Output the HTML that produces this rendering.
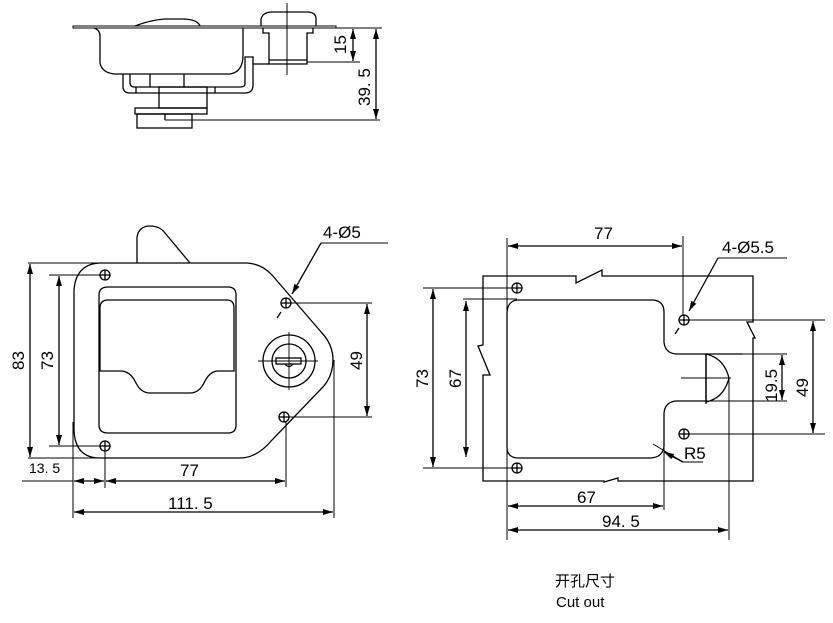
<!DOCTYPE html>
<html><head><meta charset="utf-8"><style>
html,body{margin:0;padding:0;background:#fff;}
svg{display:block;}
text{font-family:"Liberation Sans","Noto Sans CJK SC",sans-serif;fill:#000;}
</style></head><body>
<svg width="833" height="623" viewBox="0 0 833 623" xmlns="http://www.w3.org/2000/svg">
<defs>
<marker id="a" viewBox="0 0 10 6" refX="10" refY="3" markerWidth="10" markerHeight="6" orient="auto-start-reverse" markerUnits="userSpaceOnUse"><path d="M0,0 L10,3 L0,6 z" fill="#000"/></marker>
</defs>
<g fill="none" stroke="#000" stroke-width="1.3">
<!-- TOP VIEW -->
<path d="M73,26 L336,26 L336,28 L73,28 Z" stroke-width="1"/>
<path d="M135,26 Q150,20 165,19 L185,19 Q198,20 200,26"/>
<path d="M94,28 Q100,30 100,36 L100,63 Q102,73 115,74 L230,74 Q243,72 243,55 L243,28"/>
<path d="M123,74 L123,88 Q124,93 130,93 L245,93 Q253,93 253,85 L253,57 L245,57 L245,84 Q245,87 240,87 L134,87 Q130,87 130,82 L130,74"/>
<line x1="150" y1="74" x2="150" y2="87"/><line x1="184" y1="74" x2="184" y2="87"/>
<line x1="136" y1="87" x2="136" y2="93"/><line x1="215" y1="87" x2="215" y2="93"/>
<rect x="159" y="87" width="48" height="21"/>
<rect x="135" y="108" width="72" height="6"/>
<rect x="137" y="114" width="55" height="14"/>
<line x1="165" y1="114" x2="165" y2="120"/>
<line x1="165" y1="120" x2="380" y2="120" stroke-width="1"/>
<path d="M261,26 L261,19 Q263,12 272,12 L307,12 Q316,12 316,19 L316,26"/>
<path d="M263,28 L263,33 L269,33 L269,64 L307,64 L307,33 L313,33 L313,28"/>
<line x1="269" y1="60" x2="307" y2="60"/>
<line x1="253" y1="64" x2="269" y2="64"/>
<line x1="287" y1="3" x2="287" y2="75" stroke-width="1"/>
<line x1="307" y1="62" x2="360" y2="62" stroke-width="1"/>
<line x1="336" y1="28" x2="382" y2="28" stroke-width="1"/>
<line x1="353" y1="29" x2="353" y2="61" marker-start="url(#a)" marker-end="url(#a)"/>
<line x1="376" y1="29" x2="376" y2="119" marker-start="url(#a)" marker-end="url(#a)"/>

<!-- LEFT VIEW -->
<path d="M137,263 L137,237 Q139,226 150,226 Q160,226 165,233 L190,263"/>
<path d="M100,263 L247,263 Q262,264 272,275 L322,333 Q333,345 333,360 Q333,378 320,390 L272,440 Q257,458 240,458 L100,458 Q75,458 74,430 L74,290 Q76,264 100,263 Z"/>
<path d="M108,287 L228,287 Q236,287 236,295 L236,425 Q236,433 228,433 L108,433 Q99,433 99,425 L99,295 Q99,287 108,287 Z"/>
<path d="M100,371 L100,308 Q100,300 108,300 L227,300 Q234,300 234,308 L234,371 L217,371 Q209,372 204,383 Q199,393 190,393 L150,393 Q141,393 136,383 Q131,372 122,371 Z"/>
<circle cx="289" cy="361" r="26"/>
<circle cx="289" cy="361" r="17"/>
<rect x="276" y="358" width="25" height="6"/>
<path d="M285,364 Q289,369 293,364"/>
<line x1="258" y1="361" x2="318" y2="361" stroke-width="0.9"/>
<line x1="289" y1="332" x2="289" y2="390" stroke-width="0.9"/>
<circle cx="105" cy="275" r="5"/><line x1="100" y1="275" x2="110" y2="275"/><line x1="105" y1="270" x2="105" y2="280"/>
<circle cx="286" cy="303" r="5"/><line x1="281" y1="303" x2="291" y2="303"/><line x1="286" y1="298" x2="286" y2="308"/>
<circle cx="105" cy="446" r="5"/><line x1="100" y1="446" x2="110" y2="446"/><line x1="105" y1="441" x2="105" y2="451"/>
<circle cx="284" cy="417" r="5"/><line x1="279" y1="417" x2="289" y2="417"/><line x1="284" y1="412" x2="284" y2="422"/>
<g stroke-width="1">
<line x1="28" y1="263" x2="100" y2="263"/><line x1="28" y1="458" x2="100" y2="458"/>
<line x1="49" y1="275" x2="100" y2="275"/><line x1="49" y1="446" x2="100" y2="446"/>
<line x1="291" y1="303" x2="372" y2="303"/><line x1="289" y1="417" x2="372" y2="417"/>
<line x1="73" y1="422" x2="73" y2="518"/><line x1="105" y1="451" x2="105" y2="488"/>
<line x1="286" y1="422" x2="286" y2="487"/><line x1="334" y1="360" x2="334" y2="518"/>
<line x1="22" y1="481" x2="73" y2="481"/>
<line x1="321" y1="243" x2="388" y2="243"/>
</g>
<line x1="30" y1="264" x2="30" y2="457" marker-start="url(#a)" marker-end="url(#a)"/>
<line x1="59" y1="276" x2="59" y2="445" marker-start="url(#a)" marker-end="url(#a)"/>
<line x1="367" y1="304" x2="367" y2="416" marker-start="url(#a)" marker-end="url(#a)"/>
<line x1="74" y1="481" x2="104" y2="481" marker-start="url(#a)" marker-end="url(#a)"/>
<line x1="106" y1="481" x2="285" y2="481" marker-start="url(#a)" marker-end="url(#a)"/>
<line x1="74" y1="512" x2="333" y2="512" marker-start="url(#a)" marker-end="url(#a)"/>
<line x1="321" y1="243" x2="292" y2="294" marker-end="url(#a)"/>
<line x1="281" y1="312" x2="277" y2="318"/>

<!-- RIGHT VIEW -->
<path d="M483,276 L576,276 L576,283 L602,270 L602,276 L753,276 L753,322 L747,322 L755,338 L753,338 L753,481 L618,481 L618,478 L604,482 L604,481 L483,481 L483,375 L490,375 L478,346 L483,345 Z"/>
<path d="M517,300 L653,300 Q664,301 664,312 L664,342 Q665,353 676,354 L706,354 L706,401 L676,401 Q665,402 664,413 L664,446 Q663,457 651,458 L517,458 Q507,457 507,447 L507,312 Q508,301 517,300 Z"/>
<path d="M706,354 L742,354"/>
<path d="M706,354 Q724,358 729,378 Q724,398 706,402"/>
<line x1="706" y1="354" x2="706" y2="404"/>
<line x1="681" y1="378" x2="731" y2="378" stroke-width="1"/>
<circle cx="517" cy="288" r="5"/><line x1="512" y1="288" x2="522" y2="288"/><line x1="517" y1="283" x2="517" y2="293"/>
<circle cx="684" cy="320" r="5"/><line x1="679" y1="320" x2="689" y2="320"/><line x1="684" y1="315" x2="684" y2="325"/>
<circle cx="684" cy="434" r="5"/><line x1="679" y1="434" x2="689" y2="434"/><line x1="684" y1="429" x2="684" y2="439"/>
<circle cx="517" cy="468" r="5"/><line x1="512" y1="468" x2="522" y2="468"/><line x1="517" y1="463" x2="517" y2="473"/>
<g stroke-width="1">
<line x1="507" y1="238" x2="507" y2="540"/>
<line x1="683" y1="236" x2="683" y2="316"/>
<line x1="423" y1="288" x2="512" y2="288"/><line x1="423" y1="468" x2="512" y2="468"/>
<line x1="463" y1="299" x2="517" y2="299"/>
<line x1="689" y1="320" x2="825" y2="320"/><line x1="689" y1="434" x2="825" y2="434"/>
<line x1="676" y1="354" x2="787" y2="354"/><line x1="706" y1="401" x2="787" y2="401"/>
<line x1="729" y1="378" x2="729" y2="540"/>
<line x1="664" y1="446" x2="664" y2="510"/>
<line x1="718" y1="258" x2="787" y2="258"/>
<line x1="653" y1="444" x2="683" y2="462"/><line x1="683" y1="462" x2="703" y2="462"/>
</g>
<line x1="508" y1="246" x2="682" y2="246" marker-start="url(#a)" marker-end="url(#a)"/>
<line x1="433" y1="289" x2="433" y2="467" marker-start="url(#a)" marker-end="url(#a)"/>
<line x1="466" y1="301" x2="466" y2="457" marker-start="url(#a)" marker-end="url(#a)"/>
<line x1="813" y1="321" x2="813" y2="433" marker-start="url(#a)" marker-end="url(#a)"/>
<line x1="782" y1="355" x2="782" y2="400" marker-start="url(#a)" marker-end="url(#a)"/>
<line x1="508" y1="506" x2="663" y2="506" marker-start="url(#a)" marker-end="url(#a)"/>
<line x1="508" y1="530" x2="728" y2="530" marker-start="url(#a)" marker-end="url(#a)"/>
<line x1="718" y1="258" x2="689" y2="311" marker-end="url(#a)"/>
<line x1="679" y1="328" x2="675" y2="334"/>
<line x1="683" y1="462" x2="664" y2="452" marker-end="url(#a)"/>
</g>
<g font-size="17">
<text x="0" y="0" transform="translate(346,54) rotate(-90)">15</text>
<text x="0" y="0" transform="translate(370,106) rotate(-90)">39. 5</text>
<text x="0" y="0" transform="translate(24,370) rotate(-90)">83</text>
<text x="0" y="0" transform="translate(53,370) rotate(-90)">73</text>
<text x="0" y="0" transform="translate(362,370) rotate(-90)">49</text>
<text x="29" y="473" font-size="14">13. 5</text>
<text x="180" y="476">77</text>
<text x="168" y="509">111. 5</text>
<text x="323" y="238">4-Ø5</text>
<text x="594" y="239">77</text>
<text x="722" y="253">4-Ø5.5</text>
<text x="0" y="0" transform="translate(428,388) rotate(-90)">73</text>
<text x="0" y="0" transform="translate(461,388) rotate(-90)">67</text>
<text x="0" y="0" transform="translate(808,397) rotate(-90)">49</text>
<text x="0" y="0" transform="translate(777,402) rotate(-90)">19.5</text>
<text x="684" y="459">R5</text>
<text x="577" y="503">67</text>
<text x="602" y="527">94. 5</text>
<text x="555" y="586" font-size="15">开孔尺寸</text>
<text x="556" y="607" font-size="15">Cut out</text>
</g>
</svg>
</body></html>
